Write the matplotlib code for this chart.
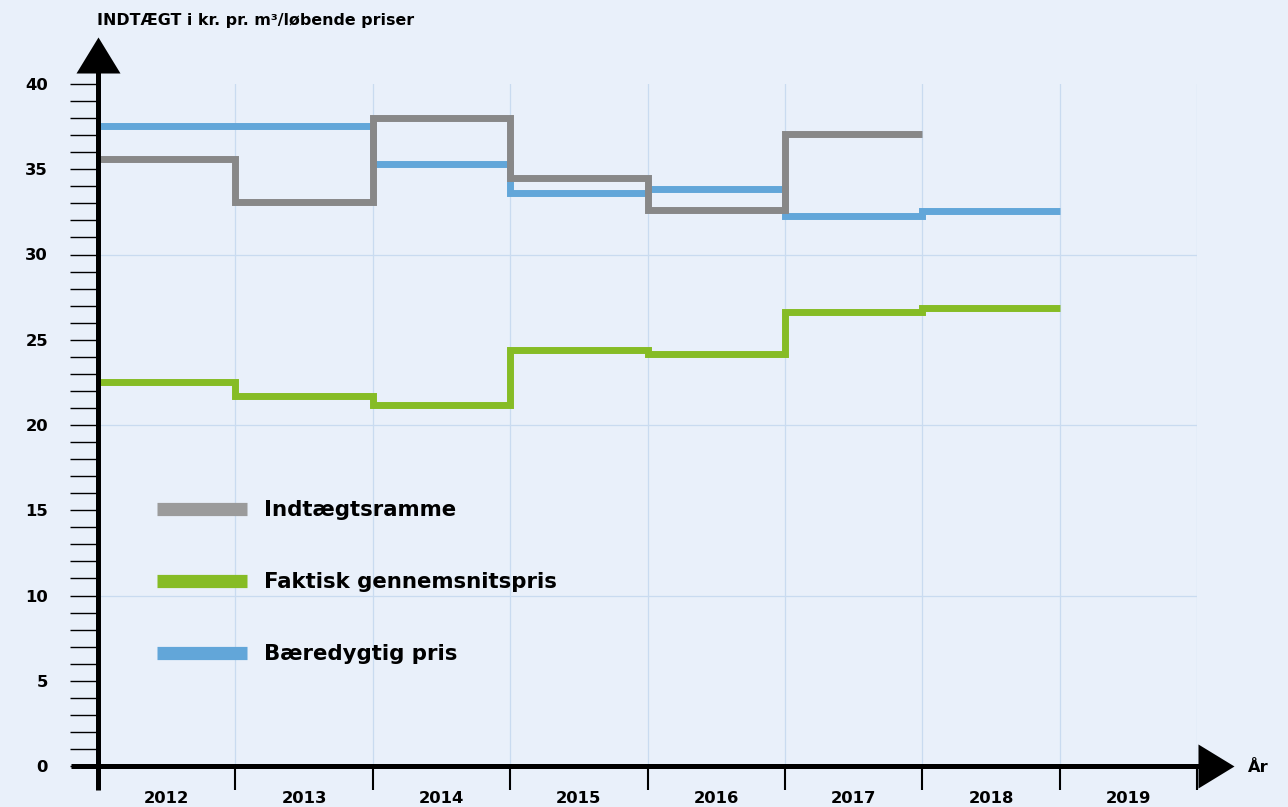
import matplotlib
matplotlib.use("Agg")
import matplotlib.pyplot as plt
from matplotlib.lines import Line2D
from matplotlib.ticker import MultipleLocator, FixedLocator, NullFormatter
import numpy as np

plt.rcParams["font.family"] = ["DejaVu Sans"]
plt.rcParams["font.weight"] = "bold"

years = [2012, 2013, 2014, 2015, 2016, 2017, 2018, 2019]
indtaegtsramme = [35.6, 33.1, 38.0, 34.5, 32.6, 37.05]          # 2012-2017
faktisk_pris = [22.5, 21.7, 21.2, 24.4, 24.15, 26.6, 26.85]      # 2012-2018
baeredygtig_pris = [37.55, 37.55, 35.3, 33.6, 33.85, 32.25, 32.55]  # 2012-2018
grid_y = [10, 20, 30]

BG = "#E9F0FA"
GRID = "#C9DBF0"
GREY, GREEN, BLUE = "#888888", "#86BC25", "#62A6D9"

W, H = 1288, 807
fig = plt.figure(figsize=(W / 100, H / 100), dpi=100, facecolor=BG)
# plot area in pixels: x 98..1197, y 84..766
ax = fig.add_axes([98 / W, (H - 766) / H, (1197 - 98) / W, (766 - 84) / H])
ax.set_facecolor(BG)
n = len(years)
ax.set_xlim(0, n)
ax.set_ylim(0, 40)
for s in ax.spines.values():
    s.set_visible(False)

# grid
for x in range(1, n + 1):
    ax.axvline(x, color=GRID, lw=0.9, zorder=0)
for y in grid_y:
    ax.axhline(y, color=GRID, lw=0.9, zorder=0)

# step series
lw = 5.0
ax.stairs(baeredygtig_pris, np.arange(len(baeredygtig_pris) + 1), baseline=None,
          color=BLUE, lw=lw, zorder=3, clip_on=False)
ax.stairs(indtaegtsramme, np.arange(len(indtaegtsramme) + 1), baseline=None,
          color=GREY, lw=lw, zorder=4, clip_on=False)
ax.stairs(faktisk_pris, np.arange(len(faktisk_pris) + 1), baseline=None,
          color=GREEN, lw=lw, zorder=4, clip_on=False)

# axes with arrowheads
ax.plot([0, 0], [-1.4, 41.5], color="black", lw=3.6, clip_on=False, zorder=6,
        solid_capstyle="butt")
ax.plot([-0.2, n + 0.1], [0, 0], color="black", lw=3.6, clip_on=False, zorder=6,
        solid_capstyle="butt")
ax.plot([0], [41.7], marker=[(0, 18), (-22, -18), (22, -18)], markersize=31.7,
        color="black", clip_on=False, zorder=7, markeredgewidth=0)
ax.plot([n + 0.137], [0], marker=[(18, 0), (-18, 22), (-18, -22)], markersize=31.7,
        color="black", clip_on=False, zorder=7, markeredgewidth=0)

# y ticks
ax.yaxis.set_major_locator(MultipleLocator(5))
ax.yaxis.set_minor_locator(MultipleLocator(1))
ax.tick_params(axis="y", which="both", direction="out", length=20, width=1.0,
               color="black", labelsize=11.8, pad=16)
ax.tick_params(axis="y", which="minor", labelleft=False)

# x ticks: marks at year boundaries, labels centred in each year
ax.xaxis.set_major_locator(FixedLocator(range(1, n + 1)))
ax.xaxis.set_major_formatter(NullFormatter())
ax.set_xticks(np.arange(n) + 0.5, [str(y) for y in years], minor=True)
ax.tick_params(axis="x", which="major", direction="out", length=17, width=1.5,
               color="black")
ax.tick_params(axis="x", which="minor", length=0, labelsize=11.8, pad=18)

fig.text(97 / W, 1 - 20 / H, "INDTÆGT i kr. pr. m³/løbende priser",
         fontsize=11.4, fontweight="bold", va="center", ha="left")
fig.text(1248 / W, 1 - 767 / H, "År", fontsize=11.8, fontweight="bold",
         va="center", ha="left")

handles = [Line2D([], [], color="#9B9B9B", lw=9.5, solid_capstyle="butt"),
           Line2D([], [], color=GREEN, lw=9.5, solid_capstyle="butt"),
           Line2D([], [], color=BLUE, lw=9.5, solid_capstyle="butt")]
labels = ["Indtægtsramme", "Faktisk gennemsnitspris", "Bæredygtig pris"]
ax.legend(handles, labels, loc="upper left", bbox_to_anchor=(157 / W, 1 - 500 / H),
          bbox_transform=fig.transFigure, frameon=False,
          handlelength=4.25, handletextpad=0.8, labelspacing=2.45, borderpad=0,
          borderaxespad=0, prop={"weight": "bold", "size": 15.3})

fig.savefig("out.png", dpi=100, facecolor=BG)
